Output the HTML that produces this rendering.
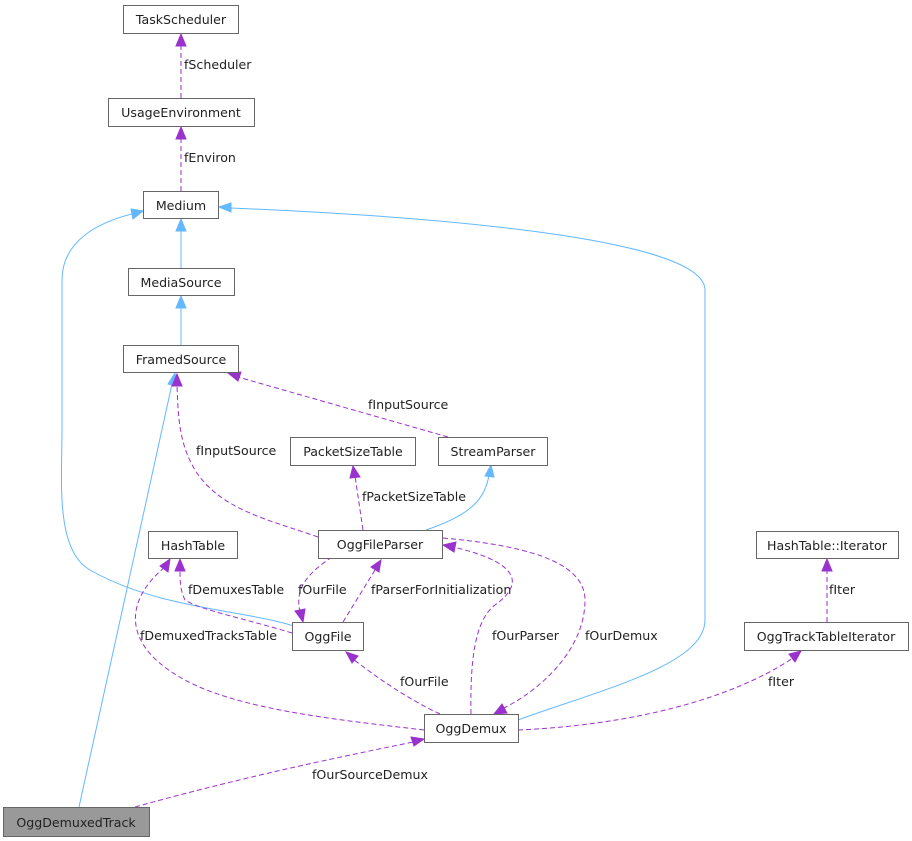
<!DOCTYPE html>
<html><head><meta charset="utf-8"><style>
html,body{margin:0;padding:0;background:#fff;}
svg{display:block;}
text{font-family:"DejaVu Sans","Liberation Sans",sans-serif;font-size:12.6px;fill:#222;}
.n{fill:#fff;stroke:#666;stroke-width:1;}
.b{fill:none;stroke:#63b8ff;stroke-width:1;}
.d{fill:none;stroke:#9a32cd;stroke-width:1;stroke-dasharray:5,3;}
.ab{fill:#63b8ff;stroke:#63b8ff;}
.ad{fill:#9a32cd;stroke:#9a32cd;}
</style></head><body>
<svg width="912" height="841" viewBox="0 0 912 841" xmlns="http://www.w3.org/2000/svg">
<path class="d" d="M181,98 L181,45"/><polygon class="ad" points="181,34 176,46 186,46"/>
<text x="184" y="69">fScheduler</text>
<path class="d" d="M181,191 L181,138"/><polygon class="ad" points="181,127 176,139 186,139"/>
<text x="184" y="162">fEnviron</text>
<path class="b" d="M181,268 L181,230"/><polygon class="ab" points="181,219 176,231 186,231"/>
<path class="b" d="M181,345 L181,307"/><polygon class="ab" points="181,296 176,308 186,308"/>
<path class="b" d="M300,628 C250,610 160,610 90,570 C55,550 62,480 62,430 L62,280 C62,240 100,222 132,214"/><polygon class="ab" points="143,211 131,209 133,219"/>
<path class="b" d="M518,720 C600,690 705,665 705,620 L705,290 C705,235 400,215 230,208"/><polygon class="ab" points="219,207 231,203 231,212"/>
<path class="b" d="M79,807 L172,384"/><polygon class="ab" points="175,373 168,384 177,386"/>
<path class="d" d="M448,437 L238,377"/><polygon class="ad" points="228,373 238,381 241,372"/>
<text x="368" y="409">fInputSource</text>
<path class="d" d="M318,537 C270,520 220,510 195,470 C180,445 178,420 177,385"/><polygon class="ad" points="177,374 172,386 182,386"/>
<text x="196" y="455">fInputSource</text>
<path class="d" d="M363,530 L355,476"/><polygon class="ad" points="353,466 350,478 360,477"/>
<text x="362" y="501">fPacketSizeTable</text>
<path class="b" d="M426,530 C470,515 485,500 489,475"/><polygon class="ab" points="491,465 485,476 494,477"/>
<path class="d" d="M332,557 C305,575 295,590 300,612"/><polygon class="ad" points="303,622 295,611 305,609"/>
<text x="298" y="594">fOurFile</text>
<path class="d" d="M343,622 L375,570"/><polygon class="ad" points="381,560 371,567 379,572"/>
<text x="371" y="594">fParserForInitialization</text>
<path class="d" d="M292,633 C250,620 200,610 185,600 C180,590 180,580 180,569"/><polygon class="ad" points="180,559 175,571 185,571"/>
<text x="188" y="594">fDemuxesTable</text>
<path class="d" d="M424,730 C340,720 240,710 185,680 C120,645 125,600 165,567"/><polygon class="ad" points="170,559 160,566 168,572"/>
<text x="140" y="640">fDemuxedTracksTable</text>
<path class="d" d="M440,714 C410,700 380,680 353,659"/><polygon class="ad" points="346,652 352,663 358,656"/>
<text x="400" y="686">fOurFile</text>
<path class="d" d="M471,714 C470,660 475,620 495,605 C530,580 510,560 453,547"/><polygon class="ad" points="443,545 454,552 456,542"/>
<text x="492" y="640">fOurParser</text>
<path class="d" d="M443,538 C520,545 585,560 585,600 C585,650 540,690 504,708"/><polygon class="ad" points="494,714 507,713 502,704"/>
<text x="585" y="640">fOurDemux</text>
<path class="d" d="M518,730 C630,725 730,700 793,658"/><polygon class="ad" points="801,651 789,654 795,662"/>
<text x="768" y="686">fIter</text>
<path class="d" d="M827,622 L827,570"/><polygon class="ad" points="827,559 822,571 832,571"/>
<text x="829" y="594">fIter</text>
<path class="d" d="M135,807 C250,775 350,755 413,742"/><polygon class="ad" points="424,739 411,737 414,746"/>
<text x="312" y="779">fOurSourceDemux</text>
<rect class="n" x="123.5" y="5.5" width="115" height="28"/><text x="181" y="24" text-anchor="middle">TaskScheduler</text>
<rect class="n" x="108.5" y="98.5" width="146" height="28"/><text x="181" y="117" text-anchor="middle">UsageEnvironment</text>
<rect class="n" x="143.5" y="191.5" width="75" height="27"/><text x="181" y="210" text-anchor="middle">Medium</text>
<rect class="n" x="128.5" y="268.5" width="106" height="27"/><text x="181" y="287" text-anchor="middle">MediaSource</text>
<rect class="n" x="123.5" y="345.5" width="115" height="27"/><text x="181" y="364" text-anchor="middle">FramedSource</text>
<rect class="n" x="290.5" y="437.5" width="125" height="28"/><text x="353" y="456" text-anchor="middle">PacketSizeTable</text>
<rect class="n" x="438.5" y="437.5" width="109" height="28"/><text x="493" y="456" text-anchor="middle">StreamParser</text>
<rect class="n" x="148.5" y="531.5" width="89" height="27"/><text x="193" y="550" text-anchor="middle">HashTable</text>
<rect class="n" x="318.5" y="530.5" width="124" height="28"/><text x="380" y="549" text-anchor="middle">OggFileParser</text>
<rect class="n" x="756.5" y="531.5" width="142" height="27"/><text x="827" y="550" text-anchor="middle">HashTable::Iterator</text>
<rect class="n" x="292.5" y="622.5" width="71" height="28"/><text x="328" y="641" text-anchor="middle">OggFile</text>
<rect class="n" x="744.5" y="622.5" width="164" height="28"/><text x="826" y="641" text-anchor="middle">OggTrackTableIterator</text>
<rect class="n" x="424.5" y="714.5" width="94" height="28"/><text x="471" y="733" text-anchor="middle">OggDemux</text>
<rect x="3.5" y="807.5" width="146" height="29" fill="#999" stroke="#666"/><text x="76" y="827" text-anchor="middle">OggDemuxedTrack</text>
</svg>
</body></html>
